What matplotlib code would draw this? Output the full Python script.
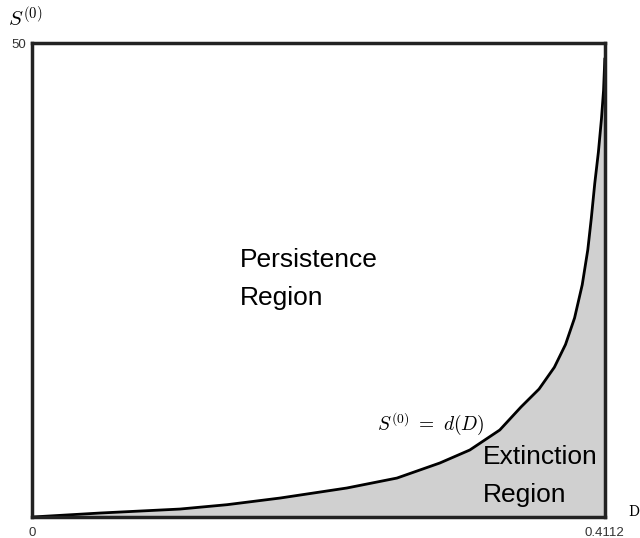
import matplotlib
matplotlib.use('Agg')
import matplotlib.pyplot as plt

plt.rcParams['font.family'] = ['Liberation Sans', 'DejaVu Sans']
plt.rcParams['mathtext.fontset'] = 'cm'

# curve S0 = d(D)
D_vals = [0.0, 0.0488, 0.1062, 0.14, 0.178, 0.226, 0.262, 0.2928, 0.3143,
          0.3358, 0.351, 0.364, 0.375, 0.383, 0.3895, 0.395, 0.399,
          0.4015, 0.404, 0.4066, 0.4088, 0.4103, 0.4112]
S_vals = [0.0, 0.42, 0.84, 1.3, 2.0, 3.06, 4.11, 5.7, 7.07,
          9.18, 11.6, 13.5, 15.8, 18.2, 21.0, 24.5, 28.2,
          31.5, 35.2, 38.5, 42.0, 45.0, 48.3]

x_ticks = [0, 0.4112]
x_tick_labels = ['0', '0.4112']
y_ticks = [50]
y_tick_labels = ['50']

fig = plt.figure(figsize=(6.4, 5.38), dpi=100)
ax = fig.add_axes([0.05, 0.039, 0.895, 0.881])

ax.fill_between(D_vals, S_vals, 0, color='#d0d0d0', lw=0)
ax.plot(D_vals, S_vals, color='black', lw=2.0, solid_joinstyle='round')

ax.set_xlim(0, 0.4112)
ax.set_ylim(0, 50)
ax.set_xticks(x_ticks)
ax.set_xticklabels(x_tick_labels, fontsize=9.5)
ax.set_yticks(y_ticks)
ax.set_yticklabels(y_tick_labels, fontsize=9.5)
ax.tick_params(axis='x', length=0, pad=7, colors='#333333')
ax.tick_params(axis='y', length=0, pad=4, colors='#333333')
for s in ax.spines.values():
    s.set_linewidth(2.5)
    s.set_color('#222222')

# labels
fig.text(0.039, 0.966, r'$S^{(0)}$', fontsize=15, ha='center', va='center')
fig.text(0.982, 0.048, 'D', fontsize=10, family='DejaVu Serif', ha='left', va='center')

ax.text(0.149, 27.1, 'Persistence', fontsize=19, ha='left', va='center')
ax.text(0.149, 23.1, 'Region', fontsize=19, ha='left', va='center')
ax.text(0.3236, 6.3, 'Extinction', fontsize=19, ha='left', va='center')
ax.text(0.3236, 2.3, 'Region', fontsize=19, ha='left', va='center')
ax.text(0.2476, 9.9, r'$S^{(0)}\ =\ d(D)$', fontsize=14, ha='left', va='center')

fig.savefig('out.png', dpi=100)
